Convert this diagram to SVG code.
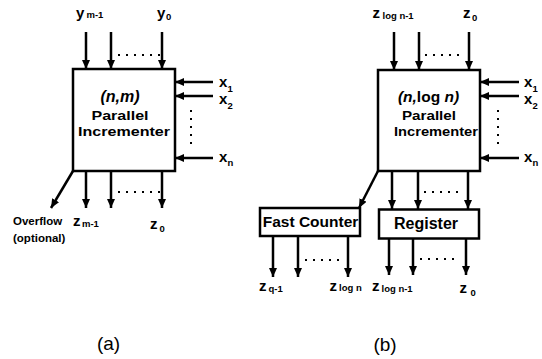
<svg xmlns="http://www.w3.org/2000/svg" width="542" height="359" viewBox="0 0 542 359">
<style>
text{font-family:"Liberation Sans",Arial,sans-serif;font-weight:bold;fill:#000}
.box{fill:#fff;stroke:#000;stroke-width:2.5}
.ar{fill:none;stroke:#000;stroke-width:2.5;marker-end:url(#ah)}
.dot{fill:none;stroke:#000;stroke-width:2;stroke-dasharray:2 6}
.v{font-size:15px}
.s{font-size:9.5px}
.lab{font-size:16px}
.in{font-size:13.5px}
.cap{font-size:19px;font-weight:normal}
</style>
<defs>
<marker id="ah" markerUnits="userSpaceOnUse" markerWidth="9" markerHeight="8" refX="9" refY="4" orient="auto">
<path d="M0,0 L9,4 L0,8 z" fill="#000"/>
</marker>
</defs>
<g id="connectors">
<path class="ar" d="M86,32 V69"/>
<path class="ar" d="M111,32 V69"/>
<path class="ar" d="M162,32 V69"/>
<path class="dot" d="M118,55 H160"/>
<path class="ar" d="M213,82 H175"/>
<path class="ar" d="M213,96 H175"/>
<path class="ar" d="M213,158 H175"/>
<path class="dot" d="M191,110 V148"/>
<path class="ar" d="M86,171 V208"/>
<path class="ar" d="M111,171 V208"/>
<path class="ar" d="M162,171 V208"/>
<path class="dot" d="M118,192 H160"/>
<path class="ar" d="M73,171 L51,208"/>
<path class="ar" d="M394,32 V70"/>
<path class="ar" d="M419,32 V70"/>
<path class="ar" d="M469,32 V70"/>
<path class="dot" d="M425,55 H465"/>
<path class="ar" d="M519,82 H480"/>
<path class="ar" d="M519,96 H480"/>
<path class="ar" d="M519,158 H480"/>
<path class="dot" d="M498,110 V148"/>
<path class="ar" d="M392,171 V209"/>
<path class="ar" d="M418,171 V209"/>
<path class="ar" d="M468,171 V209"/>
<path class="dot" d="M424,192 H464"/>
<path class="ar" d="M378,171 L359,208"/>
<path class="ar" d="M273,236 V277"/>
<path class="ar" d="M298,236 V277"/>
<path class="ar" d="M348,236 V277"/>
<path class="dot" d="M305,260 H345"/>
<path class="ar" d="M389,238.5 V275"/>
<path class="ar" d="M413,238.5 V275"/>
<path class="ar" d="M466,238.5 V275"/>
<path class="dot" d="M420,259 H460"/>
</g>
<g id="incrementer-a">
<rect class="box" x="73" y="69" width="102" height="102"/>
<text x="120" y="102" text-anchor="middle" font-size="16" font-style="italic">(n,m)</text>
<text class="in" x="120" y="120" text-anchor="middle" textLength="57" lengthAdjust="spacingAndGlyphs">Parallel</text>
<text class="in" x="124" y="135.5" text-anchor="middle" textLength="92" lengthAdjust="spacingAndGlyphs">Incrementer</text>
</g>
<g id="incrementer-b">
<rect class="box" x="378" y="70" width="102" height="101"/>
<text x="428.5" y="102" text-anchor="middle" font-size="15.5"><tspan font-style="italic">(n,</tspan>log <tspan font-style="italic">n)</tspan></text>
<text class="in" x="429" y="120" text-anchor="middle" textLength="54" lengthAdjust="spacingAndGlyphs">Parallel</text>
<text class="in" x="436" y="135.5" text-anchor="middle" textLength="84" lengthAdjust="spacingAndGlyphs">Incrementer</text>
</g>
<g id="fast-counter">
<rect class="box" x="260" y="208" width="100" height="28"/>
<text x="310.5" y="227" text-anchor="middle" font-size="15.5">Fast Counter</text>
</g>
<g id="register">
<rect class="box" x="379" y="209.5" width="100" height="29"/>
<text class="lab" x="426" y="228.5" text-anchor="middle">Register</text>
</g>
<g id="labels-a">
<text class="v" x="76" y="18">y</text><text class="s" x="86.5" y="18">m-1</text>
<text class="v" x="157" y="18">y</text><text class="s" x="166" y="20">0</text>
<text class="v" x="219" y="87">x</text><text class="s" x="227.5" y="92">1</text>
<text class="v" x="219" y="104">x</text><text class="s" x="227.5" y="109">2</text>
<text class="v" x="219" y="162">x</text><text class="s" x="227.5" y="166">n</text>
<text x="13" y="225" font-size="11.5">Overflow</text>
<text x="13" y="241.5" font-size="11.5">(optional)</text>
<text class="v" x="73" y="226">z</text><text class="s" x="82" y="227">m-1</text>
<text class="v" x="150" y="229">z</text><text class="s" x="159.5" y="232">0</text>
<text class="cap" x="108.5" y="350" text-anchor="middle">(a)</text>
</g>
<g id="labels-b">
<text class="v" x="372.5" y="18">z</text><text class="s" x="382.5" y="19">log n-1</text>
<text class="v" x="463" y="18">z</text><text class="s" x="472" y="21">0</text>
<text class="v" x="524" y="87">x</text><text class="s" x="532.5" y="92">1</text>
<text class="v" x="524" y="104">x</text><text class="s" x="532.5" y="109">2</text>
<text class="v" x="524" y="162">x</text><text class="s" x="532.5" y="166">n</text>
<text class="v" x="259" y="291">z</text><text class="s" x="268.5" y="292">q-1</text>
<text class="v" x="329.5" y="291">z</text><text class="s" x="339" y="291">log n</text>
<text class="v" x="372" y="291">z</text><text class="s" x="381.5" y="292">log n-1</text>
<text class="v" x="459.5" y="293">z</text><text class="s" x="470.5" y="296">0</text>
<text class="cap" x="385" y="351" text-anchor="middle">(b)</text>
</g>
</svg>
